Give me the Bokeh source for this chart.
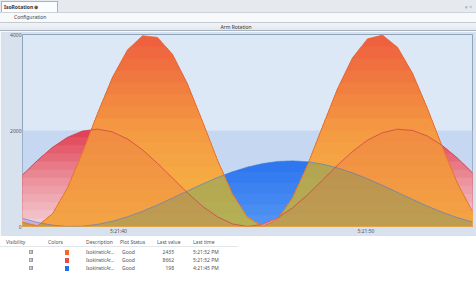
import numpy as np
from bokeh.plotting import figure
from bokeh.layouts import column
from bokeh.models import Range1d, FixedTicker, BoxAnnotation, Div
from bokeh.embed import file_html
from bokeh.resources import INLINE

# ---------------- data ----------------
samples = list(range(31))
orange_vals = [90, 12, 264, 804, 1542, 2354, 3110, 3680, 3974, 3940, 3586, 2970, 2190, 1382, 674,
               192, 2, 146, 596, 1280, 2082, 2870, 3514, 3910, 3988, 3734, 3194, 2456, 1650, 892, 314]
red_vals = [1072, 1377, 1649, 1859, 1990, 2029, 1971, 1823, 1599, 1316, 1009, 701, 421, 202, 54,
            0, 42, 176, 389, 662, 967, 1278, 1564, 1798, 1957, 2027, 2002, 1885, 1683, 1424, 1113]
blue_vals = [170, 85, 28, 1, 7, 44, 110, 203, 318, 450, 594, 740, 885, 1021, 1140, 1238, 1311,
             1355, 1368, 1349, 1300, 1222, 1118, 995, 858, 711, 564, 423, 295, 183, 94]

y_tick_pos = [0, 2000, 4000]
y_tick_labels = ["0", "2000", "4000"]
x_tick_pos = [6.4, 22.9]
x_tick_labels = ["5:21:40", "5:21:50"]

chart_title = "Arm Rotation"
tab_title = "IsoRotation \u2297"
config_label = "Configuration"

table_headers = ["Visibility", "Colors", "Description", "Plot Status", "Last value", "Last time"]
row_colors = ["#f26a1e", "#e84a4a", "#1f6ff0"]
row_desc = ["IsokineticAr...", "IsokineticAr...", "IsokineticAr..."]
row_status = ["Good", "Good", "Good"]
row_values = ["2435", "8662", "198"]
row_times = ["5:21:52 PM", "5:21:52 PM", "4:21:45 PM"]

W = 476
FONT_CSS = "font-family:'Noto Sans',sans-serif;font-size:5px;line-height:6px;"


def txt(x, y, s, align="left", color="#555555", extra=""):
    if align == "left":
        pos = f"left:{x}px;"
    elif align == "center":
        pos = f"left:{x}px;transform:translateX(-50%);"
    else:
        pos = f"right:{W - x}px;"
    return (f'<span style="position:absolute;{pos}top:{y - 3}px;white-space:nowrap;'
            f'color:{color};{extra}">{s}</span>')


def box(l, t, w, h, style):
    return f'<div style="position:absolute;left:{l}px;top:{t}px;width:{w}px;height:{h}px;{style}"></div>'


# ---------------- header (window chrome) ----------------
hparts = [
    box(0, 0, W, 12, "background:#e6e9ee;"),
    box(0, 12, W, 10, "background:#f8f9fa;border-top:1px solid #cdd3db;box-sizing:border-box;"),
    box(0, 22, W, 9, "background:linear-gradient(#f1f3f6,#e4e8ee);border-top:1px solid #c3cad4;"
                     "border-bottom:1px solid #a9b4c3;box-sizing:border-box;"),
    box(1, 1, 57, 11, "background:#fbfcfd;border:1px solid #a9b3c1;border-bottom:none;box-sizing:border-box;"),
    txt(4, 6.5, tab_title, color="#333333", extra="font-weight:bold;"),
    txt(14, 17, config_label, color="#444444"),
    txt(236, 26.5, chart_title, align="center", color="#333333"),
    txt(472, 6.5, "\u25be \u00d7", align="right", color="#9aa3ae"),
]
header = Div(text=f'<div style="position:relative;width:{W}px;height:31px;overflow:hidden;{FONT_CSS}">'
                  + "".join(hparts) + "</div>", width=W, height=31, margin=0)

# ---------------- main chart ----------------
p = figure(width=W, height=205, x_range=Range1d(0, 30), y_range=Range1d(0, 4000),
           toolbar_location=None, output_backend="svg",
           min_border_left=22, min_border_right=4, min_border_top=3, min_border_bottom=8)
p.grid.visible = False
p.background_fill_color = "#dde8f7"
p.border_fill_color = "#d8e2ef"
p.outline_line_color = "#8ea3be"
p.add_layout(BoxAnnotation(bottom=0, top=2000, fill_color="#c6d8f1", fill_alpha=1.0,
                           line_color=None, level="underlay"))

xf = np.linspace(0, 30, 901)


def hex2rgb(c):
    return [int(c[i:i + 2], 16) for i in (1, 3, 5)]


def grad_color(stops, t):
    for (p0, c0), (p1, c1) in zip(stops[:-1], stops[1:]):
        if t <= p1:
            u = (t - p0) / (p1 - p0)
            a, b = hex2rgb(c0), hex2rgb(c1)
            return "#%02x%02x%02x" % tuple(int(round(a[i] + (b[i] - a[i]) * u)) for i in range(3))
    return stops[-1][1]


def stacked_gradient(vals, top_val, stops, nb):
    hf = np.interp(xf, samples, vals)
    zero = np.zeros_like(xf)
    for k in reversed(range(nb)):
        hi = top_val * (k + 1) / nb
        if k == nb - 1:
            hi = max(hi, float(hf.max()) + 1)
        col = grad_color(stops, (k + 0.5) / nb)
        p.varea(x=xf, y1=zero, y2=np.minimum(hf, hi), fill_color=col, fill_alpha=1.0)
    return hf


def overlap(ha, hb, color, alpha):
    p.varea(x=xf, y1=np.zeros_like(xf), y2=np.minimum(ha, hb), fill_color=color, fill_alpha=alpha)


hb = stacked_gradient(blue_vals, 1370, [(0, "#5596f4"), (1, "#2a74ee")], 6)
hr = stacked_gradient(red_vals, 2030, [(0, "#f5d0d6"), (0.5, "#eb8d98"), (1, "#e03c50")], 12)
overlap(hr, hb, "#6f86e0", 0.35)
ho = stacked_gradient(orange_vals, 4000, [(0, "#f8ba44"), (0.5, "#f49a42"), (1, "#ee5c3e")], 16)
overlap(ho, hb, "#3aa070", 0.35)
overlap(ho, hr, "#e24a4a", 0.18)

p.line(samples, blue_vals, line_color="#3b7be2", line_width=0.7, line_alpha=0.8)
p.line(samples, red_vals, line_color="#d23a4c", line_width=0.8, line_alpha=0.9)
p.line(samples, orange_vals, line_color="#e2662c", line_width=0.8, line_alpha=0.9)

p.yaxis.ticker = FixedTicker(ticks=y_tick_pos)
p.yaxis.major_label_overrides = {t: l for t, l in zip(y_tick_pos, y_tick_labels)}
p.xaxis.ticker = FixedTicker(ticks=x_tick_pos)
p.xaxis.major_label_overrides = {t: l for t, l in zip(x_tick_pos, x_tick_labels)}
for ax in (p.xaxis, p.yaxis):
    ax.major_label_text_font = "Noto Sans"
    ax.major_label_text_font_size = "5px"
    ax.major_label_text_color = "#555555"
    ax.axis_line_color = None
    ax.major_tick_line_color = None
    ax.minor_tick_line_color = None
    ax.major_tick_out = 0
    ax.major_tick_in = 0
    ax.minor_tick_out = 0
    ax.minor_tick_in = 0
    ax.major_label_standoff = 1

# ---------------- table ----------------
hx = [6, 48, 86, 120, 157, 193]
ry = [16, 24, 32]
tparts = [box(0, 0, W, 57, "background:#ffffff;"),
          box(0, 10, 238, 1, "background:#e3e6ea;")]
for x, h in zip(hx, table_headers):
    tparts.append(txt(x, 6, h))
for i, y in enumerate(ry):
    tparts.append(box(29, y - 2, 4, 4, "background:#f4f6f8;border:0.6px solid #9aa4b0;box-sizing:border-box;"))
    tparts.append(txt(29.6, y, "\u2713", color="#333333", extra="font-size:4px;"))
    tparts.append(box(65, y - 2.5, 4, 5, f"background:{row_colors[i]};"))
    tparts.append(txt(86, y, row_desc[i], extra="font-size:4.5px;"))
    tparts.append(txt(122, y, row_status[i]))
    tparts.append(txt(174, y, row_values[i], align="right"))
    tparts.append(txt(193, y, row_times[i]))
table = Div(text=f'<div style="position:relative;width:{W}px;height:57px;overflow:hidden;{FONT_CSS}">'
                 + "".join(tparts) + "</div>", width=W, height=57, margin=0)

layout = column(header, p, table, spacing=0)
open("out.html", "w").write(file_html(layout, INLINE))
